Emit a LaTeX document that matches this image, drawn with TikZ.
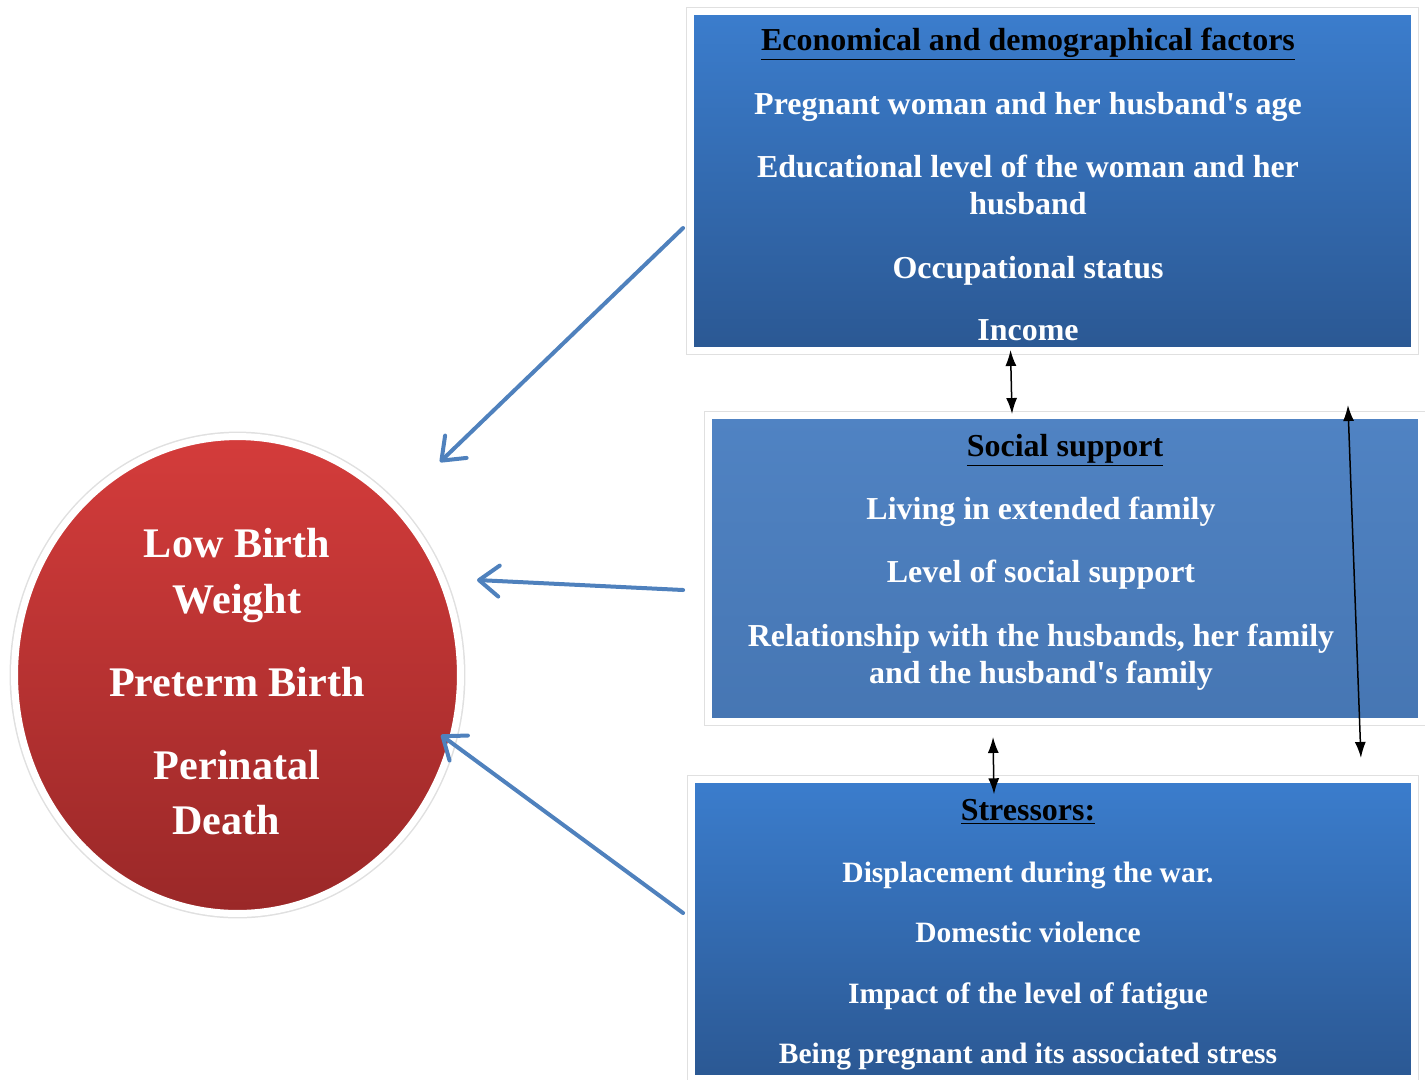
\documentclass[tikz,border=0pt]{standalone}
\usepackage{fontspec}
\setmainfont{Liberation Serif}
\usetikzlibrary{shapes.geometric,shadows,calc,arrows.meta}
\definecolor{boxtop}{HTML}{3B7DCD}
\definecolor{boxbot}{HTML}{2B5893}
\definecolor{socialtop}{HTML}{5083C3}
\definecolor{socialbot}{HTML}{4676B3}
\definecolor{redtop}{HTML}{D43C3B}
\definecolor{redbot}{HTML}{9A2828}
\definecolor{arrowblue}{HTML}{4F81BD}
\tikzset{
    factor/.style = {rectangle, draw=white, line width=0.14cm,
        top color=boxtop, bottom color=boxbot,
        preaction={draw=black!12, line width=0.2cm},
        drop shadow={opacity=0.2, shadow xshift=0.05cm, shadow yshift=-0.07cm}},
    outcome/.style = {ellipse, draw=white, line width=0.14cm,
        top color=redtop, bottom color=redbot,
        minimum width=8.92cm, minimum height=9.54cm,
        preaction={draw=black!12, line width=0.2cm}},
    head/.style = {font=\bfseries\fontsize{18.2}{21}\selectfont, text=black, anchor=base, inner sep=0pt},
    item/.style = {font=\bfseries\fontsize{18.2}{21}\selectfont, text=white, anchor=base, inner sep=0pt},
    small/.style = {item, font=\bfseries\fontsize{16.8}{20}\selectfont},
    big/.style = {font=\bfseries\fontsize{24}{30}\selectfont, text=white, anchor=base, inner sep=0pt},
    impact/.style = {draw=arrowblue, line width=0.08cm, line cap=round, line join=round,
        -{Straight Barb[length=0.4cm,width=0.62cm,round]}},
    link/.style = {draw, line width=0.03cm,
        {Latex[length=0.32cm,width=0.22cm]}-{Latex[length=0.32cm,width=0.22cm]}}
}

\begin{document}
\begin{tikzpicture}[x=0.02cm, y=-0.02cm]
    \useasboundingbox (0,0) rectangle (1425,1079);

    % boxes and the outcome circle
    \node [factor, minimum width=14.48cm, minimum height=6.78cm] (econ) at (1052.5,181) {};
    \node [factor, top color=socialtop, bottom color=socialbot,
        minimum width=14.26cm, minimum height=6.12cm] (social) at (1065,568.5) {};
    \node [factor, minimum width=14.46cm, minimum height=5.97cm] (stress) at (1053,929) {};
    \node [outcome] (lbw) at (237.5,675) {};

    % economical and demographical factors
    \node [head] (econhead) at (1028,50) {\underline{Economical and demographical factors}};
    \foreach \y/\t [count=\i] in {114/{Pregnant woman and her husband\textquotesingle s age},
        177/{Educational level of the woman and her}, 214/{husband},
        278/{Occupational status}, 340/{Income}}
        \node [item] (econ\i) at (1028,\y) {\t};

    % social support
    \node [head] (socialhead) at (1065,456) {\underline{Social support}};
    \foreach \y/\t [count=\i] in {519/{Living in extended family},
        582/{Level of social support},
        646/{Relationship with the husbands, her family},
        683/{and the husband\textquotesingle s family}}
        \node [item] (social\i) at (1041,\y) {\t};

    % stressors
    \node [head] (stresshead) at (1028,820) {\underline{Stressors:}};
    \foreach \y/\t [count=\i] in {882/{Displacement during the war.},
        942/{Domestic violence},
        1003/{Impact of the level of fatigue},
        1063/{Being pregnant and its associated stress}}
        \node [small] (stress\i) at (1028,\y) {\t};

    % outcomes
    \foreach \x/\y/\t [count=\i] in {237/557/{Low Birth}, 237/613/{Weight},
        237/696/{Preterm Birth}, 237/779/{Perinatal}, 226/834/{Death}}
        \node [big] (lbw\i) at (\x,\y) {\t};

    % effects on the outcome
    \draw [impact] ($(econ.west)+(-4,47)$) -- ($(lbw.center)+(202.5,-213)$);
    \draw [impact] ($(social.west)+(-22,21.5)$) -- ($(lbw.center)+(239.5,-95)$);
    \draw [impact] ($(stress.west)+(-5,-16)$) -- ($(lbw.center)+(203.5,60)$);

    % links between the factors
    \draw [link] ($(econ.south)+(-42,-4)$) -- ($(social.north)+(-53,2)$);
    \draw [link] ($(social.south)+(-72,12)$) -- ($(stress.north)+(-59,18)$);
    \draw [link] ($(social.north east)+(-77,-7)$) -- ($(social.south east)+(-64,33)$);
\end{tikzpicture}
\end{document}
